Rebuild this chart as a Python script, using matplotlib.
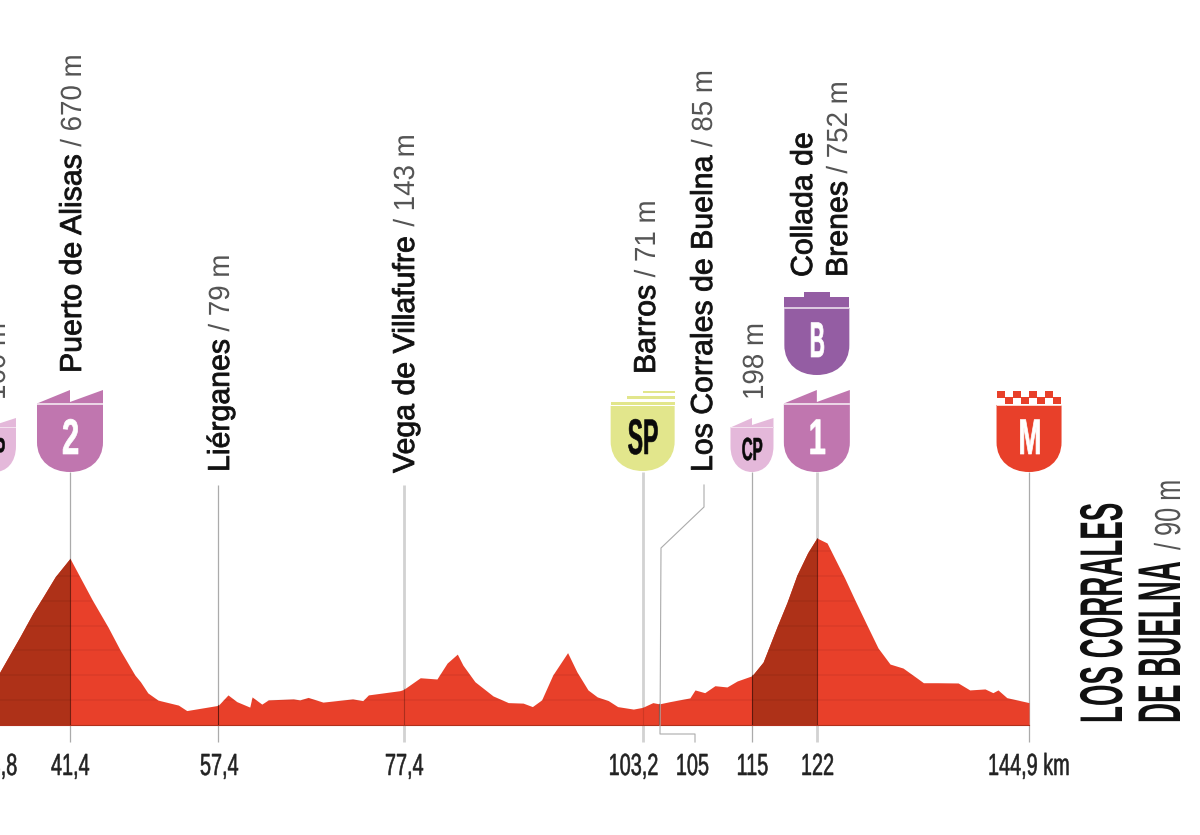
import matplotlib
matplotlib.use('Agg')
import matplotlib.pyplot as plt
import matplotlib.text as mtext
import matplotlib.transforms as mtransforms
from matplotlib.patches import PathPatch, Polygon, Rectangle
from matplotlib.path import Path
from matplotlib.textpath import TextPath

# Profile: km and metres
km = [33.7, 36.0, 37.4, 38.5, 39.8, 41.4, 43.8, 45.5, 46.8, 48.4, 49.0, 49.8, 50.9, 53.1, 54.0, 57.4,
      58.45, 59.4, 60.8, 61.05, 62.1, 62.8, 65.5, 66.2, 67.1, 68.7, 71.9, 73.0, 73.6, 77.0, 77.4,
      79.2, 81.0, 82.1, 83.2, 83.8, 85.1, 87.05, 88.7, 90.3, 91.3, 92.3, 93.5, 95.1, 96.1, 97.3,
      98.3, 99.5, 100.5, 102.2, 103.2, 104.3, 105, 106.15, 108.3, 108.85, 109.9, 111.0, 112.3,
      113.4, 115, 116.2, 116.7, 117.7, 118.8, 119.85, 121.0, 122, 123.1, 125.0, 126.1, 127.4,
      128.6, 129.9, 131.3, 132.8, 133.5, 135.0, 137.25, 138.5, 140.15, 141.0, 141.55, 142.5, 144.9]
elev = [205, 355, 450, 516, 596, 670, 503, 394, 302, 201, 174, 129, 100, 80, 58, 79,
        121, 94, 72, 113, 84, 101, 105, 101, 111, 92, 105, 98, 121, 138, 143,
        190, 185, 249, 285, 241, 174, 117, 90, 88, 74, 101, 201, 291, 214, 141,
        113, 98, 74, 64, 71, 90, 85, 94, 109, 141, 130, 158, 153,
        177, 198, 253, 300, 395, 495, 603, 692, 752, 732, 591, 503, 402,
        310, 245, 229, 189, 170, 170, 169, 141, 145, 130, 141, 110, 90]

tick_km = [41.4, 57.4, 77.4, 103.2, 115, 122, 144.9]
tick_labels = ['33,8', '41,4', '57,4', '77,4', '103,2', '105', '115', '122', '144,9 km']
grid_m = [100, 200, 300, 400, 500, 600, 700]
climb_ranges = [(33.7, 41.4), (115, 122)]

names = ['Puerto de Alisas', 'Liérganes', 'Vega de Villafufre', 'Barros',
         'Los Corrales de Buelna', 'Brenes', 'Collada de', '', '']
alts = ['/ 670 m', '/ 79 m', '/ 143 m', '/ 71 m', '/ 85 m', '/ 752 m', '', '198 m', '160 m']

RED = '#E8402A'
DARK = '#AE3118'
FONT = 'Liberation Sans'


class NarrowText(mtext.Text):
    # real text, drawn squeezed along its reading direction (no condensed face installed)
    def __init__(self, x, y, s, squeeze=1.0, stroke=0.0, **kw):
        super().__init__(x, y, s, **kw)
        self.squeeze = squeeze
        self.stroke = stroke

    def _outline(self):
        dpi = self.get_figure().dpi
        tp = TextPath((0, 0), self.get_text(), prop=self.get_fontproperties())
        path = Path(tp.vertices, tp.codes)
        box = path.get_extents()
        shift = {'left': 0, 'center': -box.x1 / 2, 'right': -box.x1}[self.get_ha()]
        tr = (mtransforms.Affine2D().translate(shift, 0)
              .scale(self.squeeze * dpi / 72, dpi / 72)
              .rotate_deg(self.get_rotation())
              .translate(*self.get_transform().transform(self.get_position())))
        return path, tr

    def draw(self, renderer):
        path, tr = self._outline()
        gc = renderer.new_gc()
        gc.set_foreground(self.get_color())
        gc.set_linewidth(self.stroke)
        gc.set_antialiased(True)
        renderer.draw_path(gc, path, tr, matplotlib.colors.to_rgba(self.get_color()))
        gc.restore()

    def get_window_extent(self, renderer=None, dpi=None):
        path, tr = self._outline()
        return path.transformed(tr).get_extents()


fig = plt.figure(figsize=(12, 8.35), dpi=100)
ax = fig.add_axes([0, 0, 1, 1])
ax.set_xlim(33.846, 163.35)
ax.set_ylim(-442.3, 2915.2)
ax.axis('off')
# second axes in image pixels, for the annotation layout
ov = fig.add_axes([0, 0, 1, 1], facecolor='none')
ov.set_xlim(0, 1200)
ov.set_ylim(835, 0)
ov.axis('off')
km_y = mtransforms.blended_transform_factory(ax.transData, ov.transData)


def km_px(k):
    return ax.transData.transform((k, 0))[0]


def put(x, y, s, size, squeeze=1.0, color='#111111', weight='normal', rotation=0, ha='left', stroke=0.0, z=10):
    t = NarrowText(x, y, s, squeeze=squeeze, stroke=stroke, color=color, rotation=rotation, ha=ha,
                   fontfamily=FONT, fontsize=size, fontweight=weight, zorder=z)
    t.set_transform(ov.transData)
    t.set_clip_on(False)
    ov.add_artist(t)
    return t


# gray leader lines sit under the profile
line_tops = [472, 485, 485, 472, 472, 472, 472]
line_wide = [False, False, True, True, False, True, False]
for k, top, wide in zip(tick_km, line_tops, line_wide):
    ax.plot([k, k], [top, 742], transform=km_y, color='#D2D2D2' if wide else '#ABABAB',
            lw=2.0 if wide else 0.9, solid_capstyle='butt', zorder=1)
ov.plot([704, 704, 661, 660, 695, 695], [485, 507, 548, 734, 734, 742], color='#ABABAB', lw=0.8, zorder=1)

profile = ax.fill_between(km, 0, elev, color=RED, lw=0, zorder=2)
clip = profile.get_paths()[0]
for lo, hi in climb_ranges:
    ax.fill_between(km, 0, elev, where=[lo <= k <= hi for k in km], color=DARK, lw=0, zorder=3)

bands = ax.hlines(grid_m, 33.7, 144.9, color='black', alpha=0.06, lw=1.1, zorder=4)
bands.set_clip_path(clip, ax.transData)
ax.plot([33.7, 144.9], [0, 0], color='#B0301C', lw=0.8, zorder=4)
for k, a in zip([41.4, 57.4, 77.4, 103.2, 105, 115, 122], [.6, .75, .35, .15, .7, .75, .6]):
    ln, = ax.plot([k, k], [0, 800], color='#3a0d05', alpha=a, lw=0.8, zorder=5)
    ln.set_clip_path(clip, ax.transData)


def shield(cx, hw, top, bottom, color, curve):
    verts = [(cx - hw, top), (cx + hw, top), (cx + hw, bottom - curve),
             (cx + hw, bottom - curve * 0.35), (cx + hw * 0.55, bottom), (cx, bottom),
             (cx - hw * 0.55, bottom), (cx - hw, bottom - curve * 0.35), (cx - hw, bottom - curve),
             (cx - hw, top)]
    codes = [Path.MOVETO, Path.LINETO, Path.LINETO, Path.CURVE4, Path.CURVE4, Path.CURVE4,
             Path.CURVE4, Path.CURVE4, Path.CURVE4, Path.CLOSEPOLY]
    ov.add_patch(PathPatch(Path(verts, codes), fc=color, ec='none', zorder=6))


def teeth(cx, hw, low, high, notch, color):
    ov.add_patch(Polygon([(cx - hw, low), (cx, high), (cx, notch), (cx + hw, high), (cx + hw, low)],
                         fc=color, ec='none', zorder=6))


def stripe(cx, hw, y0, y1, color, z=7):
    ov.add_patch(Rectangle((cx - hw, y0), 2 * hw, y1 - y0, fc=color, ec='none', zorder=z))


# cat 3 / CP crest, also the one cut by the left edge
CP_C = '#E4B8DA'
for cx in [km_px(33.25), km_px(115)]:
    shield(cx, 21.5, 427, 472, CP_C, 26)
    teeth(cx, 21.5, 427.5, 418, 425, CP_C)
    stripe(cx, 21.5, 426.5, 428, '#F3E0EE')
    put(cx, 460, 'CP', 23, squeeze=0.47, color='#0a0a0a', weight='bold', ha='center', stroke=0.4)

CAT_C = '#C076AF'
for cx, txt in [(km_px(41.4), '2'), (km_px(122), '1')]:
    shield(cx, 33, 404, 472, CAT_C, 30)
    teeth(cx, 33, 403.5, 390, 402, CAT_C)
    stripe(cx, 33, 402.8, 405, '#EBD5E6')
    put(cx, 454, txt, 36, squeeze=0.62, color='white', weight='bold', ha='center', stroke=0.5)

# special climb crest above the finish of the 1st cat climb
cx = km_px(122)
BC = '#945DA3'
shield(cx, 32.5, 308, 375, BC, 30)
stripe(cx, 32.5, 297, 307.5, BC)
stripe(cx, 13, 292, 298, BC)
stripe(cx, 32.5, 307.3, 309.3, '#DCC8E0')
put(cx, 357, 'B', 36, squeeze=0.42, color='white', weight='bold', ha='center', stroke=0.5)

# sprint crest
cx = km_px(103.2)
SP_C = '#E2E68C'
shield(cx, 32, 406, 471, SP_C, 30)
ov.add_patch(Rectangle((cx, 391), 32, 2.2, fc=SP_C, ec='none', zorder=6))
ov.add_patch(Rectangle((cx - 16, 396), 48, 3, fc=SP_C, ec='none', zorder=6))
ov.add_patch(Rectangle((cx - 32, 401.5), 64, 3, fc=SP_C, ec='none', zorder=6))
put(cx, 454, 'SP', 36, squeeze=0.46, color='#0a0a0a', weight='bold', ha='center', stroke=0.4)

# finish crest with the checkers
cx = km_px(144.9)
shield(cx, 32.5, 405, 472, RED, 30)
stripe(cx, 32.5, 404.5, 406, '#F9D5CC')
for i in range(8):
    row_top = 390.7 if i % 2 == 0 else 397.3
    ov.add_patch(Rectangle((cx - 32.5 + i * 8.1, row_top), 8.1, 7, fc=RED, ec='none', zorder=6))
put(cx, 454, 'M', 36, squeeze=0.55, color='white', weight='bold', ha='center', stroke=0.5)

# rotated place names, baseline x and starting y in pixels
name_x = [81, 229, 414, 655, 712, 847, 812, 763, 5]
name_y = [373, 472, 473, 374, 472, 277, 277, 400, 400]
for x, y, n, a in zip(name_x, name_y, names, alts):
    if n:
        t = put(x, y, n, 21.8, rotation=90, stroke=0.6)
        t_h = t.get_window_extent().height
        y = y - t_h - 11
    if a:
        put(x, y, a, 21.0, squeeze=0.95, color='#555555', rotation=90)

# km labels under the profile
label_x = [-2.5, 70, 219, 404, 633, 692, 752, 817]
for x, s in zip(label_x, tick_labels[:-1]):
    put(x, 775, s, 22, squeeze=0.65, color='#222222', ha='center', stroke=0.4)
put(988, 775, tick_labels[-1], 22, squeeze=0.65, color='#222222', stroke=0.4)

# finish town
put(1122, 723, 'LOS CORRALES', 43.4, squeeze=0.46, weight='bold', rotation=90)
put(1180, 723, 'DE BUELNA', 43.4, squeeze=0.46, weight='bold', rotation=90)
put(1180, 550, '/ 90 m', 26, squeeze=0.7, color='#555555', rotation=90)

fig.savefig('out.png', dpi=100)
